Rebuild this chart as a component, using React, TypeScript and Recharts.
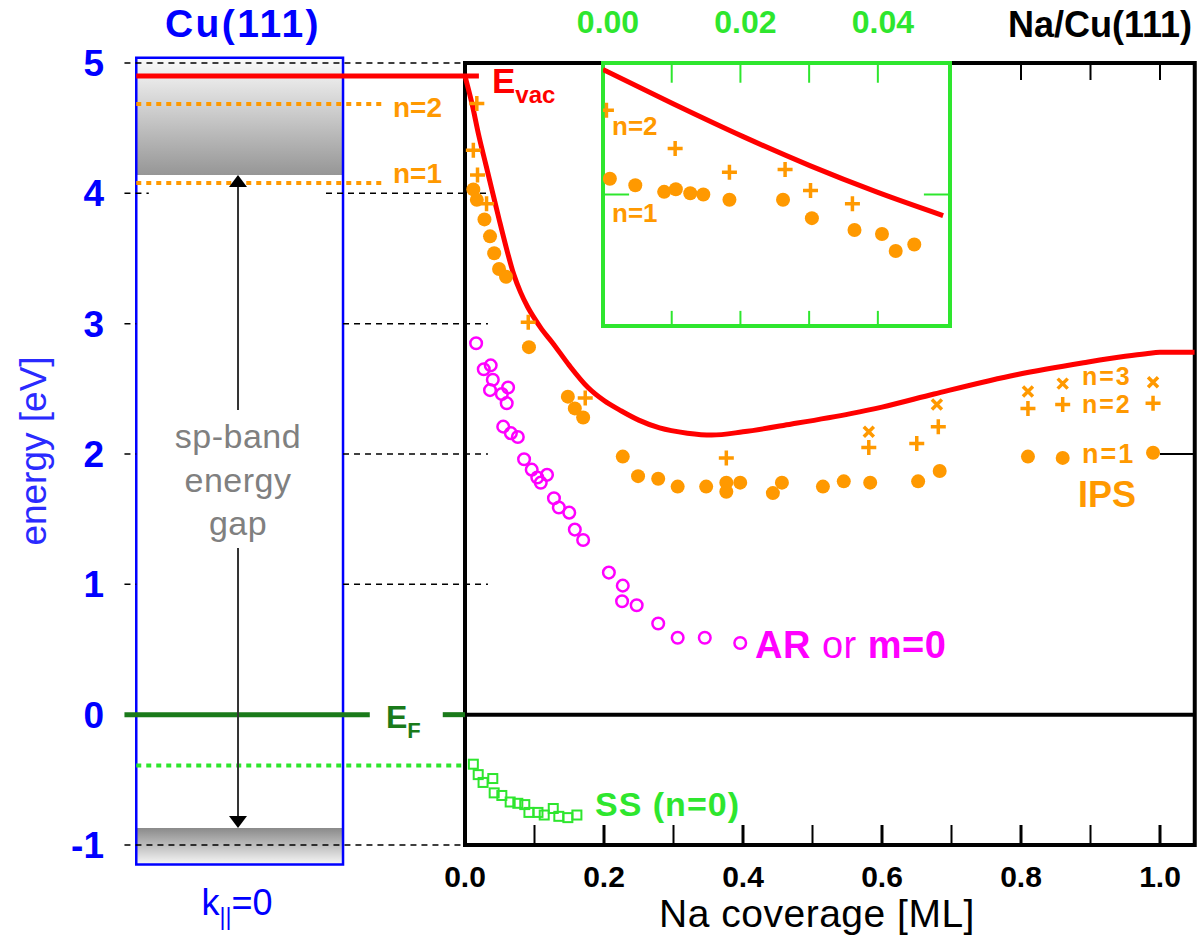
import React from 'react'
import {
  ComposedChart, Line, Scatter, XAxis, YAxis,
  ReferenceLine, ReferenceArea, ReferenceDot,
} from 'recharts'

const FONT = '"Liberation Sans", Arial, Helvetica, sans-serif'
const ORANGE = '#ff9900'
const RED = '#ff0000'
const MAGENTA = '#ff00ff'
const LIME = '#2ee62e'
const BLUE = '#0000ff'
const DKGREEN = '#1a7a1a'

// axis ticks
const energyTicks = [-1, 0, 1, 2, 3, 4, 5]
const coverageTicks = [0, 0.2, 0.4, 0.6, 0.8, 1.0]
const coverageMinor = [0.1, 0.2, 0.3, 0.4, 0.5, 0.6, 0.7, 0.8, 0.9, 1.0]
const coverageTop = [0.8, 0.9, 1.0]
const insetTicks = [0, 0.02, 0.04]
const insetMinor = [0.01, 0.02, 0.03, 0.04]

// clean Cu(111) levels at k=0 [eV]
const E_VAC = 4.9
const IPS_N2 = 4.685
const IPS_N1 = 4.08
const SS_LEVEL = -0.39
const GAP_TOP = 4.14
const GAP_BOTTOM = -0.87

// Na/Cu(111): [coverage ML, energy eV]
const evacMain: [number, number][] = [
  [0, 4.9], [0.01, 4.69], [0.02, 4.44], [0.03, 4.22], [0.04, 4.0], [0.05, 3.78],
  [0.06, 3.57], [0.07, 3.38], [0.08, 3.24], [0.09, 3.13], [0.1, 3.04], [0.11, 2.96], [0.125, 2.86],
  [0.15, 2.68], [0.177, 2.51], [0.2, 2.41], [0.225, 2.33], [0.25, 2.26], [0.28, 2.2],
  [0.32, 2.16], [0.355, 2.145], [0.4, 2.17], [0.47, 2.23], [0.555, 2.31], [0.6, 2.36],
  [0.675, 2.46], [0.795, 2.61], [0.89, 2.7], [0.95, 2.75], [0.98, 2.77], [1.0, 2.78], [1.05, 2.78],
]
const ipsN1: [number, number][] = [
  [0.012, 4.03], [0.017, 3.95], [0.028, 3.8], [0.036, 3.67], [0.042, 3.54], [0.049, 3.42],
  [0.059, 3.36], [0.092, 2.82], [0.148, 2.44], [0.158, 2.35], [0.17, 2.28], [0.227, 1.98],
  [0.249, 1.83], [0.278, 1.81], [0.306, 1.75], [0.347, 1.75], [0.376, 1.78], [0.376, 1.71],
  [0.396, 1.78], [0.443, 1.7], [0.456, 1.78], [0.515, 1.75], [0.545, 1.79], [0.583, 1.78],
  [0.652, 1.79], [0.683, 1.87], [0.81, 1.98], [0.86, 1.97], [0.99, 2.01],
]
const ipsN2: [number, number][] = [
  [0.017, 4.69], [0.012, 4.33], [0.018, 4.14], [0.031, 3.92], [0.091, 3.01], [0.173, 2.43],
  [0.376, 1.97], [0.581, 2.05], [0.65, 2.08], [0.681, 2.21], [0.81, 2.35], [0.86, 2.38], [0.99, 2.39],
]
const ipsN3: [number, number][] = [
  [0.581, 2.17], [0.679, 2.38], [0.81, 2.48], [0.86, 2.54], [0.99, 2.55],
]
const arState: [number, number][] = [
  [0.016, 2.85], [0.027, 2.65], [0.037, 2.68], [0.04, 2.57], [0.036, 2.49], [0.053, 2.46],
  [0.062, 2.51], [0.06, 2.39], [0.055, 2.21], [0.066, 2.16], [0.076, 2.13], [0.085, 1.96],
  [0.096, 1.88], [0.104, 1.82], [0.118, 1.84], [0.109, 1.78], [0.128, 1.66], [0.135, 1.59],
  [0.15, 1.55], [0.158, 1.42], [0.17, 1.34], [0.207, 1.09], [0.227, 0.99], [0.226, 0.87],
  [0.247, 0.84], [0.278, 0.7], [0.306, 0.59], [0.345, 0.59], [0.396, 0.55],
]
const ssState: [number, number][] = [
  [0.012, -0.38], [0.019, -0.46], [0.026, -0.52], [0.04, -0.49], [0.042, -0.6], [0.053, -0.62],
  [0.065, -0.67], [0.076, -0.68], [0.086, -0.69], [0.092, -0.75], [0.105, -0.75], [0.114, -0.77],
  [0.127, -0.72], [0.135, -0.78], [0.148, -0.79], [0.161, -0.77],
]

// inset, low coverage
const evacInset: [number, number][] = [
  [0, 4.95], [0.0102, 4.69], [0.0204, 4.44], [0.0301, 4.22], [0.0398, 4.02], [0.0495, 3.84],
]
const insetN2: [number, number][] = [
  [0.0005, 4.64], [0.0105, 4.35], [0.0184, 4.17], [0.0265, 4.19], [0.0302, 4.03], [0.0363, 3.93],
]
const insetN1: [number, number][] = [
  [0.001, 4.12], [0.0047, 4.07], [0.0089, 4.02], [0.0106, 4.04], [0.0127, 4.01], [0.0146, 4.0],
  [0.0184, 3.96], [0.0262, 3.96], [0.0304, 3.82], [0.0366, 3.73], [0.0406, 3.7], [0.0426, 3.57],
  [0.0453, 3.62],
]

const pts = (a: [number, number][]) => a.map(([x, y]) => ({ x, y }))

// left (clean surface) panel placed on the same x scale, left of zero
const GRID_L = -0.49
const PANEL_L = -0.473
const PANEL_R = -0.1755
const ARROW_X = -0.3266

const Disc = ({ cx, cy }: any) => <circle cx={cx} cy={cy} r={7} fill={ORANGE} />
const PlusMark = ({ cx, cy }: any) => (
  <path d={`M${cx - 7.5} ${cy}h15M${cx} ${cy - 7.5}v15`} stroke={ORANGE} strokeWidth={3.5} fill="none" />
)
const CrossMark = ({ cx, cy }: any) => (
  <path d={`M${cx - 5} ${cy - 5}l10 10M${cx + 5} ${cy - 5}l-10 10`} stroke={ORANGE} strokeWidth={3.5} fill="none" />
)
const Ring = ({ cx, cy }: any) => <circle cx={cx} cy={cy} r={5.8} fill="none" stroke={MAGENTA} strokeWidth={2.5} />
const Square = ({ cx, cy }: any) => (
  <rect x={cx - 4.5} y={cy - 4.5} width={9} height={9} fill="none" stroke={LIME} strokeWidth={2} />
)
const ArrowUp = ({ cx, cy }: any) => <polygon points={`${cx},${cy} ${cx - 9},${cy + 12} ${cx + 9},${cy + 12}`} fill="#000" />
const ArrowDown = ({ cx, cy }: any) => <polygon points={`${cx},${cy} ${cx - 9},${cy - 12} ${cx + 9},${cy - 12}`} fill="#000" />

const dash = { stroke: '#000', strokeWidth: 1.5, strokeDasharray: '6 5' }

function MainChart() {
  const tickLen = 20 / 130.33
  return (
    <ComposedChart width={1204} height={937} margin={{ top: 63, right: 9.25, bottom: 0, left: 0 }}>
      <defs>
        <linearGradient id="gapTop" x1="0" y1="0" x2="0" y2="1">
          <stop offset="0" stopColor="#fbfbfb" />
          <stop offset="1" stopColor="#969696" />
        </linearGradient>
        <linearGradient id="gapBot" x1="0" y1="0" x2="0" y2="1">
          <stop offset="0" stopColor="#8a8a8a" />
          <stop offset="1" stopColor="#f7f7f7" />
        </linearGradient>
      </defs>
      <XAxis type="number" dataKey="x" domain={[-0.5, 1.05]} allowDataOverflow ticks={coverageTicks}
        interval={0} tickFormatter={(v: number) => v.toFixed(1)} height={92} tickSize={0} tickMargin={21}
        axisLine={false} tickLine={false}
        tick={{ fill: '#000', fontSize: 30, fontWeight: 'bold', fontFamily: FONT }} />
      <YAxis type="number" dataKey="y" domain={[-1, 5]} allowDataOverflow ticks={energyTicks}
        interval={0} width={117.5} tickSize={0} tickMargin={13.5} axisLine={false} tickLine={false}
        tick={{ fill: BLUE, fontSize: 37, fontWeight: 'bold', fontFamily: FONT }} />

      {/* clean Cu(111) panel */}
      <ReferenceArea x1={PANEL_L} x2={PANEL_R} y1={GAP_TOP} y2={5.04} fill="url(#gapTop)" fillOpacity={1}
        stroke="none" ifOverflow="visible" />
      <ReferenceArea x1={PANEL_L} x2={PANEL_R} y1={-1.15} y2={GAP_BOTTOM} fill="url(#gapBot)" fillOpacity={1}
        stroke="none" ifOverflow="visible" />
      <ReferenceArea x1={PANEL_L} x2={PANEL_R} y1={-1.15} y2={5.04} fill="none" stroke={BLUE} strokeWidth={2.5}
        ifOverflow="visible" />

      <ReferenceLine segment={[{ x: GRID_L, y: 5 }, { x: 0, y: 5 }]} {...dash} />
      <ReferenceLine segment={[{ x: GRID_L, y: -1 }, { x: 0, y: -1 }]} {...dash} />
      {energyTicks.filter((e) => e > 0 && e < 5).map((e) => (
        <React.Fragment key={e}>
          <ReferenceLine segment={[{ x: GRID_L, y: e }, { x: e === 4 ? -0.455 : PANEL_L, y: e }]} {...dash} />
          <ReferenceLine segment={[{ x: e === 4 ? -0.2 : PANEL_R, y: e }, { x: 0.033, y: e }]} {...dash} />
        </React.Fragment>
      ))}

      <ReferenceLine segment={[{ x: PANEL_L, y: E_VAC }, { x: 0.02, y: E_VAC }]} stroke={RED} strokeWidth={5} />
      <ReferenceLine segment={[{ x: PANEL_L, y: IPS_N2 }, { x: -0.115, y: IPS_N2 }]} stroke={ORANGE}
        strokeWidth={4} strokeDasharray="5 5" />
      <ReferenceLine segment={[{ x: PANEL_L, y: IPS_N1 }, { x: -0.115, y: IPS_N1 }]} stroke={ORANGE}
        strokeWidth={4} strokeDasharray="5 5" />
      <ReferenceLine segment={[{ x: PANEL_L, y: SS_LEVEL }, { x: 0, y: SS_LEVEL }]} stroke={LIME}
        strokeWidth={4} strokeDasharray="5 5" />
      <ReferenceLine segment={[{ x: GRID_L, y: 0 }, { x: -0.137, y: 0 }]} stroke={DKGREEN} strokeWidth={5} />
      <ReferenceLine segment={[{ x: -0.032, y: 0 }, { x: 0, y: 0 }]} stroke={DKGREEN} strokeWidth={5} />
      <ReferenceLine segment={[{ x: ARROW_X, y: GAP_TOP - 0.05 }, { x: ARROW_X, y: GAP_BOTTOM + 0.05 }]}
        stroke="#333" strokeWidth={2} />
      <ReferenceDot x={ARROW_X} y={GAP_TOP} r={0} shape={ArrowUp} ifOverflow="visible" />
      <ReferenceDot x={ARROW_X} y={GAP_BOTTOM} r={0} shape={ArrowDown} ifOverflow="visible" />

      {/* Na/Cu(111) frame */}
      <ReferenceArea x1={0} x2={1.05} y1={-1} y2={5} fill="none" stroke="#000" strokeWidth={4} />
      <ReferenceLine segment={[{ x: 0, y: 0 }, { x: 1.05, y: 0 }]} stroke="#000" strokeWidth={4} />
      {coverageMinor.map((t, i) => (
        <ReferenceLine key={'b' + t} segment={[{ x: t, y: -1 }, { x: t, y: -1 + tickLen }]} stroke="#000"
          strokeWidth={i % 2 ? 3 : 2} />
      ))}
      {coverageTop.map((t) => (
        <ReferenceLine key={'t' + t} segment={[{ x: t, y: 5 }, { x: t, y: 5 - tickLen * 0.85 }]} stroke="#000"
          strokeWidth={2} />
      ))}
      <ReferenceLine segment={[{ x: 1.0, y: 2 }, { x: 1.05, y: 2 }]} stroke="#000" strokeWidth={2} />

      <Line data={pts(evacMain)} dataKey="y" type="monotone" stroke={RED} strokeWidth={5} dot={false}
        activeDot={false} isAnimationActive={false} />
      <Scatter data={pts(arState)} shape={Ring} isAnimationActive={false} />
      <Scatter data={pts(ssState)} shape={Square} isAnimationActive={false} />
      <Scatter data={pts(ipsN1)} shape={Disc} isAnimationActive={false} />
      <Scatter data={pts(ipsN2)} shape={PlusMark} isAnimationActive={false} />
      <Scatter data={pts(ipsN3)} shape={CrossMark} isAnimationActive={false} />
    </ComposedChart>
  )
}

function InsetChart() {
  return (
    <ComposedChart width={440} height={340} margin={{ top: 0, right: 50, bottom: 14, left: 43 }}>
      <XAxis type="number" dataKey="x" orientation="top" domain={[0, 0.0505]} allowDataOverflow
        ticks={insetTicks} interval={0} tickFormatter={(v: number) => v.toFixed(2)} height={63} tickSize={0}
        tickMargin={30} axisLine={false} tickLine={false}
        tick={{ fill: LIME, fontSize: 32, fontWeight: 'bold', fontFamily: FONT, dx: 5 }} />
      <YAxis type="number" dataKey="y" domain={[3, 5]} allowDataOverflow hide width={0} />
      <ReferenceArea x1={0} x2={0.0505} y1={3} y2={5} fill="#fff" fillOpacity={1} stroke={LIME} strokeWidth={4} />
      {insetMinor.map((t) => (
        <React.Fragment key={t}>
          <ReferenceLine segment={[{ x: t, y: 5 }, { x: t, y: 4.85 }]} stroke={LIME} strokeWidth={2} />
          <ReferenceLine segment={[{ x: t, y: 3 }, { x: t, y: 3.115 }]} stroke={LIME} strokeWidth={2} />
        </React.Fragment>
      ))}
      <ReferenceLine segment={[{ x: 0, y: 4 }, { x: 0.0038, y: 4 }]} stroke={LIME} strokeWidth={2} />
      <ReferenceLine segment={[{ x: 0.0467, y: 4 }, { x: 0.0505, y: 4 }]} stroke={LIME} strokeWidth={2} />
      <Line data={pts(evacInset)} dataKey="y" type="monotone" stroke={RED} strokeWidth={5} dot={false}
        activeDot={false} isAnimationActive={false} />
      <Scatter data={pts(insetN1)} shape={Disc} isAnimationActive={false} />
      <Scatter data={pts(insetN2)} shape={PlusMark} isAnimationActive={false} />
    </ComposedChart>
  )
}

function Labels() {
  const t = { fontFamily: FONT }
  return (
    <svg width={1204} height={937} style={{ position: 'absolute', left: 0, top: 0, pointerEvents: 'none' }}>
      <text x={243} y={37} textAnchor="middle" fill={BLUE} fontSize={39} fontWeight="bold" letterSpacing={2.5} {...t}>
        Cu(111)
      </text>
      <text x={1192} y={37} textAnchor="end" fill="#000" fontSize={36} fontWeight="bold" {...t}>Na/Cu(111)</text>
      <text transform="translate(46,451) rotate(-90)" textAnchor="middle" fill="#2a2aff" fontSize={37} {...t}>
        energy [eV]
      </text>
      <text x={237} y={915} textAnchor="middle" fill={BLUE} fontSize={36} {...t}>
        k<tspan fontSize={23} dy={10}>||</tspan><tspan dy={-10}>=0</tspan>
      </text>

      <rect x={165} y={410} width={146} height={138} fill="#fff" />
      <g fill="#808080" fontSize={34} textAnchor="middle" letterSpacing={0.5} {...t}>
        <text x={238} y={448}>sp-band</text>
        <text x={238} y={492}>energy</text>
        <text x={238} y={535}>gap</text>
      </g>

      <text x={492} y={93} fill={RED} fontSize={35} fontWeight="bold" {...t}>
        E<tspan fontSize={24} dy={10}>vac</tspan>
      </text>
      <text x={386} y={728} fill={DKGREEN} fontSize={32} fontWeight="bold" {...t}>
        E<tspan fontSize={22} dy={10}>F</tspan>
      </text>

      <g fill={ORANGE} fontWeight="bold" {...t}>
        <text x={393} y={117} fontSize={28}>n=2</text>
        <text x={393} y={183} fontSize={28}>n=1</text>
        <text x={612} y={135} fontSize={26}>n=2</text>
        <text x={612} y={222} fontSize={26}>n=1</text>
        <text x={1082} y={385} fontSize={25} letterSpacing={2}>n=3</text>
        <text x={1082} y={413} fontSize={25} letterSpacing={2}>n=2</text>
        <text x={1082} y={463} fontSize={27} letterSpacing={2}>n=1</text>
        <text x={1078} y={507} fontSize={36}>IPS</text>
      </g>

      <text x={755} y={658} fill={MAGENTA} fontSize={38} letterSpacing={0.5} {...t}>
        <tspan fontWeight="bold">AR</tspan> or <tspan fontWeight="bold">m=0</tspan>
      </text>
      <text x={595} y={816} fill={LIME} fontSize={34} fontWeight="bold" letterSpacing={1} {...t}>SS (n=0)</text>

      <text x={817} y={927} textAnchor="middle" fill="#000" fontSize={39} letterSpacing={0.5} {...t}>
        Na coverage [ML]
      </text>
    </svg>
  )
}

export default function App() {
  return (
    <div style={{ position: 'absolute', left: 0, top: 0, width: 1204, height: 937, background: '#fff', fontFamily: FONT }}>
      <div style={{ position: 'absolute', left: 0, top: 0 }}>
        <MainChart />
      </div>
      <div style={{ position: 'absolute', left: 560, top: 0 }}>
        <InsetChart />
      </div>
      <Labels />
    </div>
  )
}
